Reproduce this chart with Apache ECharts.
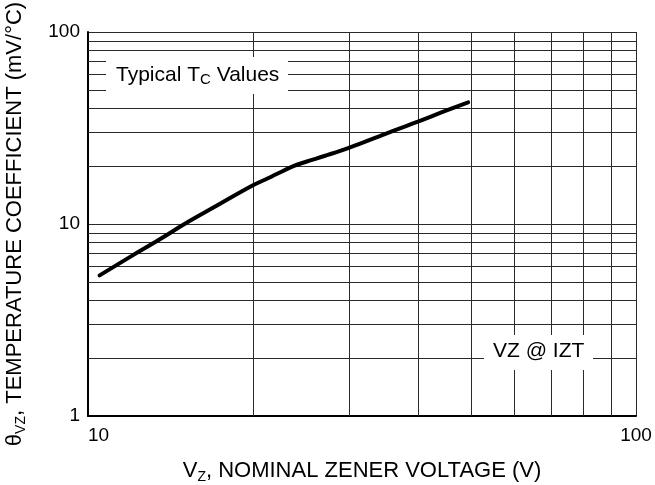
<!DOCTYPE html>
<html lang="en">
<head>
    <meta charset="UTF-8">
    <title>Typical TC Values</title>
    <script src="https://cdn.jsdelivr.net/npm/echarts@6/dist/echarts.min.js"></script>
    <style>
        html, body { margin: 0; padding: 0; background: #fff; }
        #chart { width: 655px; height: 485px; }
    </style>
</head>
<body>
<div id="chart"></div>
<script>
    // curve: nominal zener voltage (V) -> temp coefficient (mV/°C)
    const vz = [10.5, 12, 13.5, 15, 17, 20, 21.3, 22, 23.7, 25, 27, 30, 35, 40, 45, 49.4];
    const tc = [5.4, 6.8, 8.3, 10, 12.25, 15.9, 17.3, 18.1, 20, 21.1, 22.6, 25, 29.6, 34.1, 38.9, 43];

    // minor grid lines of the log paper
    const xMinor = [20, 30, 40, 50, 60, 70, 80, 90];
    const yMinor = [2, 3, 4, 5, 6, 7, 8, 9, 20, 30, 40, 50, 60, 70, 80, 90];

    const font = 'Liberation Sans, Arial, Helvetica, sans-serif';
    const gridColor = '#2a2a2a';

    const chart = echarts.init(document.getElementById('chart'));

    const richName = {
        n: { fontSize: 22, fontFamily: font, color: '#000', lineHeight: 26 },
        s: { fontSize: 14, fontFamily: font, color: '#000', lineHeight: 14, verticalAlign: 'bottom' }
    };

    const option = {
        animation: false,
        grid: {
            left: 88, right: 19, top: 32, bottom: 69,
            containLabel: false,
            outerBoundsMode: 'none'
        },
        xAxis: {
            type: 'log',
            logBase: 10,
            min: 10,
            max: 100,
            name: '{n|V}{s|Z}{n|, NOMINAL ZENER VOLTAGE (V)}',
            nameLocation: 'middle',
            nameGap: 42,
            nameTextStyle: { rich: richName },
            axisLine: { lineStyle: { color: '#000', width: 2 } },
            axisTick: { show: false },
            axisLabel: {
                fontSize: 19, fontFamily: font, color: '#000', margin: 10,
                alignMinLabel: 'left'
            },
            splitLine: { show: true, lineStyle: { color: gridColor, width: 1 } }
        },
        yAxis: {
            type: 'log',
            logBase: 10,
            min: 1,
            max: 100,
            name: '{n|θ}{s|VZ}{n|, TEMPERATURE COEFFICIENT (mV/°C)}',
            nameLocation: 'middle',
            nameGap: 60,
            nameTextStyle: { rich: richName },
            axisLine: { lineStyle: { color: '#000', width: 2 } },
            axisTick: { show: false },
            axisLabel: { fontSize: 19, fontFamily: font, color: '#000', margin: 8 },
            splitLine: { show: true, lineStyle: { color: gridColor, width: 1 } }
        },
        graphic: [
            { type: 'rect', z: 100, shape: { x: 106, y: 57, width: 182, height: 37 }, style: { fill: '#fff' } },
            {
                type: 'text', z: 101, x: 116, y: 75,
                style: {
                    text: '{n|Typical T}{s|C}{n| Values}',
                    verticalAlign: 'middle',
                    rich: {
                        n: { fontSize: 21, fontFamily: font, fill: '#000', lineHeight: 24 },
                        s: { fontSize: 15, fontFamily: font, fill: '#000', lineHeight: 14, verticalAlign: 'bottom' }
                    }
                }
            },
            { type: 'rect', z: 100, shape: { x: 484, y: 335, width: 109, height: 35 }, style: { fill: '#fff' } },
            {
                type: 'text', z: 101, x: 493, y: 351,
                style: {
                    text: 'VZ @ IZT', fontSize: 21, fontFamily: font, fill: '#000',
                    verticalAlign: 'middle'
                }
            }
        ],
        series: [
            {
                type: 'line',
                data: vz.map((v, i) => [v, tc[i]]),
                smooth: 0.4,
                showSymbol: false,
                lineStyle: { color: '#000', width: 4, cap: 'round' },
                z: 5,
                markLine: {
                    silent: true,
                    symbol: 'none',
                    label: { show: false },
                    lineStyle: { color: gridColor, width: 1, type: 'solid' },
                    z: 1,
                    data: xMinor.map(v => ({ xAxis: v })).concat(yMinor.map(v => ({ yAxis: v })))
                }
            }
        ]
    };

    chart.setOption(option);
</script>
</body>
</html>
